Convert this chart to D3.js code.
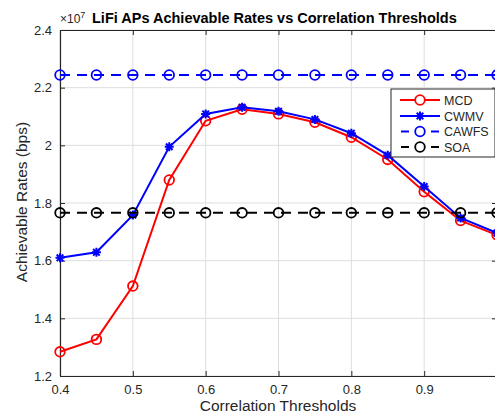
<!DOCTYPE html>
<html><head><meta charset="utf-8">
<script src="https://cdn.jsdelivr.net/npm/d3@7"></script>
<style>body{margin:0;background:#fff}svg{display:block;font-family:"Liberation Sans",Arial,sans-serif}</style>
</head><body>
<script>
const thresholds = [0.4,0.45,0.5,0.55,0.6,0.65,0.7,0.75,0.8,0.85,0.9,0.95,1.0];
const mcd   = [1.284,1.327,1.512,1.880,2.085,2.125,2.109,2.080,2.028,1.951,1.839,1.739,1.689];
const cwmv  = [1.610,1.629,1.758,1.995,2.109,2.132,2.118,2.090,2.042,1.966,1.857,1.748,1.696];
const cawfs = thresholds.map(() => 2.244);
const soa   = thresholds.map(() => 1.766);
const xTicks = [0.4,0.5,0.6,0.7,0.8,0.9,1.0];
const xTickLabels = ["0.4","0.5","0.6","0.7","0.8","0.9",""];
const yTicks = [1.2,1.4,1.6,1.8,2.0,2.2,2.4];
const yTickLabels = ["1.2","1.4","1.6","1.8","2","2.2","2.4"];
const seriesNames = ["MCD","CWMV","CAWFS","SOA"];

const W = 495, H = 418;
const L = 60, R = 497, T = 30, B = 376;
const svg = d3.select("body").append("svg").attr("width", W).attr("height", H);
const x = d3.scaleLinear().domain([0.4, 1.0]).range([L, R]);
const y = d3.scaleLinear().domain([1.2, 2.4]).range([B, T]);

// grid
const g = svg.append("g");
g.selectAll(".gx").data(xTicks).enter().append("line")
  .attr("x1", d => x(d)).attr("x2", d => x(d)).attr("y1", T).attr("y2", B)
  .attr("stroke", "#dedede").attr("stroke-width", 1);
g.selectAll(".gy").data(yTicks).enter().append("line")
  .attr("x1", L).attr("x2", R).attr("y1", d => y(d)).attr("y2", d => y(d))
  .attr("stroke", "#dedede").attr("stroke-width", 1);

// axes
const axC = "#262626";
const xAxis = d3.axisBottom(x).tickValues(xTicks).tickFormat((d, i) => xTickLabels[i]).tickSizeInner(-5).tickSizeOuter(0).tickPadding(9);
const yAxis = d3.axisLeft(y).tickValues(yTicks).tickFormat((d, i) => yTickLabels[i]).tickSizeInner(-5).tickSizeOuter(0).tickPadding(8);
const xa = svg.append("g").attr("transform", `translate(0,${B})`).call(xAxis);
const ya = svg.append("g").attr("transform", `translate(${L},0)`).call(yAxis);
const xt = svg.append("g").attr("transform", `translate(0,${T})`).call(d3.axisTop(x).tickValues(xTicks).tickFormat("").tickSizeInner(-5).tickSizeOuter(0));
const yr = svg.append("g").attr("transform", `translate(${R},0)`).call(d3.axisRight(y).tickValues(yTicks).tickFormat("").tickSizeInner(-5).tickSizeOuter(0));
[xa, ya, xt, yr].forEach(a => {
  a.selectAll("path").attr("stroke", axC).attr("stroke-width", 1.2);
  a.selectAll("line").attr("stroke", axC);
  a.selectAll("text").attr("fill", axC).style("font-size", "13px").style("font-family", '"Liberation Sans",Arial,sans-serif');
});

// series
const line = d3.line().x((d, i) => x(thresholds[i])).y(d => y(d));
const pg = svg.append("g");

function circles(data, color) {
  pg.selectAll(null).data(data).enter().append("circle")
    .attr("cx", (d, i) => x(thresholds[i])).attr("cy", d => y(d)).attr("r", 4.8)
    .attr("fill", "none").attr("stroke", color).attr("stroke-width", 1.8);
}
function starPath(cx, cy) {
  const s = 4.5, s2 = 3.3;
  return `M${cx - s},${cy}L${cx + s},${cy}M${cx},${cy - s}L${cx},${cy + s}M${cx - s2},${cy - s2}L${cx + s2},${cy + s2}M${cx - s2},${cy + s2}L${cx + s2},${cy - s2}`;
}
function stars(data, color) {
  pg.selectAll(null).data(data).enter().append("path")
    .attr("d", (d, i) => starPath(x(thresholds[i]), y(d)))
    .attr("stroke", color).attr("stroke-width", 2).attr("fill", "none");
}
pg.append("path").attr("d", line(mcd)).attr("fill", "none").attr("stroke", "#ff0000").attr("stroke-width", 2);
circles(mcd, "#ff0000");
pg.append("path").attr("d", line(cwmv)).attr("fill", "none").attr("stroke", "#0000ff").attr("stroke-width", 2);
stars(cwmv, "#0000ff");
pg.append("path").attr("d", line(cawfs)).attr("fill", "none").attr("stroke", "#0000ff").attr("stroke-width", 2).attr("stroke-dasharray", "10,7");
circles(cawfs, "#0000ff");
pg.append("path").attr("d", line(soa)).attr("fill", "none").attr("stroke", "#000000").attr("stroke-width", 2).attr("stroke-dasharray", "10,7");
circles(soa, "#000000");

// legend
const lg = svg.append("g");
lg.append("rect").attr("x", 391).attr("y", 89).attr("width", 104).attr("height", 68)
  .attr("fill", "#fff").attr("stroke", axC).attr("stroke-width", 1);
const lcol = ["#ff0000", "#0000ff", "#0000ff", "#000000"];
const lys = [100, 116, 131.5, 147];
seriesNames.forEach((n, i) => {
  const ly = lys[i];
  const ln = lg.append("line").attr("x1", 400).attr("x2", 440).attr("y1", ly).attr("y2", ly)
    .attr("stroke", lcol[i]).attr("stroke-width", 2);
  if (i >= 2) ln.attr("stroke-dasharray", "8,7").attr("stroke-dashoffset", -1);
  if (i === 1) {
    lg.append("path").attr("d", starPath(420, ly)).attr("stroke", lcol[i]).attr("stroke-width", 2);
  } else {
    lg.append("circle").attr("cx", 420).attr("cy", ly).attr("r", 4.8).attr("fill", "#fff").attr("stroke", lcol[i]).attr("stroke-width", 1.8);
  }
  lg.append("text").attr("x", 444).attr("y", ly + 4.5).text(n).style("font-size", "12.5px").attr("fill", axC);
});

// title and labels
const te = svg.append("text").attr("x", 60).attr("y", 23).attr("fill", axC).style("font-size", "12px");
te.append("tspan").text("×10");
te.append("tspan").attr("dy", -5).style("font-size", "9px").text("7");
svg.append("text").attr("x", 92).attr("y", 23).attr("fill", "#000").style("font-size", "14.5px").style("font-weight", "bold")
  .text("LiFi APs Achievable Rates vs Correlation Thresholds");
svg.append("text").attr("x", 278).attr("y", 411).attr("text-anchor", "middle").attr("fill", axC).style("font-size", "15.5px").text("Correlation Thresholds");
svg.append("text").attr("transform", "translate(27,202) rotate(-90)").attr("text-anchor", "middle").attr("fill", axC).style("font-size", "15.5px").text("Achievable Rates (bps)");
</script>
</body></html>
